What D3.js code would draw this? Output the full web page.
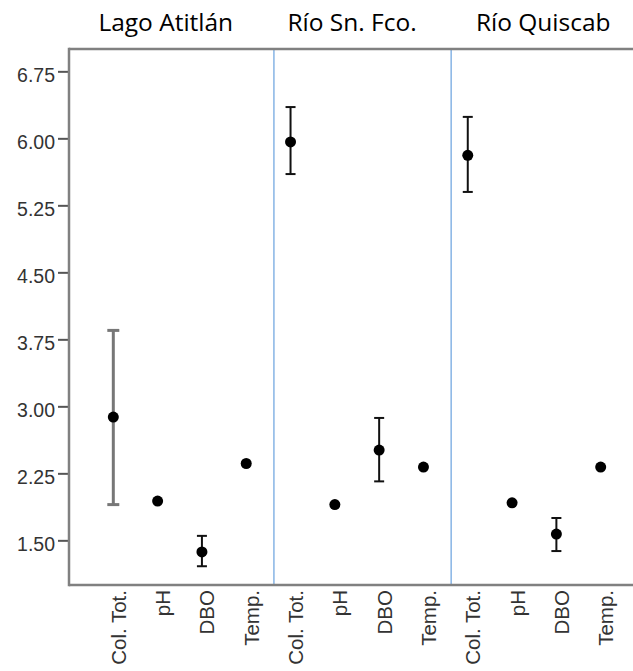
<!DOCTYPE html>
<html>
<head>
<meta charset="utf-8">
<script src="https://cdn.jsdelivr.net/npm/d3@7/dist/d3.min.js"></script>
<style>
  body { margin: 0; background: #fff; }
  svg { display: block; }
</style>
</head>
<body>
<div id="chart"></div>
<script>
// sites and measured variables
const groups = ['Lago Atitlán', 'Río Sn. Fco.', 'Río Quiscab'];
const variables = ['Col. Tot.', 'pH', 'DBO', 'Temp.'];

// mean per site, one value per variable
const meanAtitlan = [2.88, 1.94, 1.37, 2.36];
const meanSnFco = [5.96, 1.90, 2.51, 2.32];
const meanQuiscab = [5.81, 1.92, 1.57, 2.32];

// interval bounds (null = no bar drawn)
const lowAtitlan = [1.90, null, 1.21, null];
const highAtitlan = [3.85, null, 1.55, null];
const lowSnFco = [5.60, null, 2.16, null];
const highSnFco = [6.35, null, 2.87, null];
const lowQuiscab = [5.40, null, 1.38, null];
const highQuiscab = [6.24, null, 1.75, null];

const yTicks = [1.50, 2.25, 3.00, 3.75, 4.50, 5.25, 6.00, 6.75];

const means = [meanAtitlan, meanSnFco, meanQuiscab];
const lows = [lowAtitlan, lowSnFco, lowQuiscab];
const highs = [highAtitlan, highSnFco, highQuiscab];

const data = [];
groups.forEach((g, gi) => {
    variables.forEach((v, vi) => {
        data.push({
            key: g + '|' + v, group: g, gi, variable: v, vi,
            mean: means[gi][vi], low: lows[gi][vi], high: highs[gi][vi]
        });
    });
});

const width = 633;
const height = 671;
const margin = { top: 49, left: 69, bottom: 86 };
const plotBottom = height - margin.bottom;
const labelFont = '"Liberation Sans", Arial, sans-serif';

const svg = d3.select('#chart')
    .append('svg')
    .attr('width', width)
    .attr('height', height);

// scales
const xScale = d3.scalePoint()
    .domain(data.map(d => d.key))
    .range([margin.left, 645])
    .padding(1);

const yScale = d3.scaleLinear()
    .domain([1, 7])
    .range([plotBottom, margin.top]);

const step = xScale.step();

// panel separators
for (let gi = 0; gi < groups.length - 1; gi++) {
    const lastKey = groups[gi] + '|' + variables[variables.length - 1];
    const sx = xScale(lastKey) + step * 0.625;
    svg.append('line')
        .attr('x1', sx).attr('x2', sx)
        .attr('y1', margin.top).attr('y2', plotBottom)
        .attr('stroke', '#7eaee3')
        .attr('stroke-width', 1.4);
}

// frame: top line
svg.append('line')
    .attr('x1', margin.left).attr('x2', width)
    .attr('y1', margin.top).attr('y2', margin.top)
    .attr('stroke', '#808080')
    .attr('stroke-width', 2.5);

// y axis
const yAxis = d3.axisLeft(yScale)
    .tickValues(yTicks)
    .tickFormat(d3.format('.2f'))
    .tickSize(11)
    .tickPadding(3)
    .tickSizeOuter(0);

const yG = svg.append('g')
    .attr('transform', `translate(${margin.left},0)`)
    .call(yAxis);
yG.select('.domain').remove();
yG.selectAll('.tick line').attr('stroke', '#555').attr('stroke-width', 2);
yG.selectAll('.tick text')
    .attr('dy', '0.5em')
    .style('font-family', labelFont)
    .style('font-size', '19.5px')
    .style('fill', '#333');

svg.append('line')
    .attr('x1', margin.left).attr('x2', margin.left)
    .attr('y1', margin.top - 1.25).attr('y2', plotBottom + 1.25)
    .attr('stroke', '#808080')
    .attr('stroke-width', 2.5);

// x axis
const xAxis = d3.axisBottom(xScale)
    .tickSize(0)
    .tickFormat(k => k.split('|')[1]);

const xG = svg.append('g')
    .attr('transform', `translate(0,${plotBottom})`)
    .call(xAxis);
xG.select('.domain').remove();
xG.selectAll('.tick text')
    .attr('transform', 'rotate(-90)')
    .attr('x', -5)
    .attr('y', 0)
    .attr('dy', '12px')
    .style('text-anchor', 'end')
    .style('font-family', labelFont)
    .style('font-size', '20.5px')
    .style('fill', '#333');

svg.append('line')
    .attr('x1', margin.left).attr('x2', width)
    .attr('y1', plotBottom).attr('y2', plotBottom)
    .attr('stroke', '#808080')
    .attr('stroke-width', 2.5);

// panel titles
const titleOffsets = [-14, -5, 9];
svg.selectAll('.panel-title')
    .data(groups)
    .enter()
    .append('text')
    .attr('class', 'panel-title')
    .attr('x', (g, i) => (xScale(g + '|pH') + xScale(g + '|DBO')) / 2 + titleOffsets[i])
    .attr('y', 31)
    .attr('text-anchor', 'middle')
    .style('font-family', '"Open Sans", sans-serif')
    .style('font-size', '24.5px')
    .style('fill', '#000')
    .text(g => g);

// error bars
const withBars = data.filter(d => d.low !== null);
const barColor = d => (d.gi === 0 && d.vi === 0 ? '#777' : '#111');
const barWidth = d => (d.gi === 0 && d.vi === 0 ? 3 : 2);
const capHalf = d => (d.gi === 0 && d.vi === 0 ? 6 : 5);

svg.selectAll('.err')
    .data(withBars)
    .enter()
    .append('line')
    .attr('class', 'err')
    .attr('x1', d => xScale(d.key)).attr('x2', d => xScale(d.key))
    .attr('y1', d => yScale(d.low)).attr('y2', d => yScale(d.high))
    .attr('stroke', barColor)
    .attr('stroke-width', barWidth);

['low', 'high'].forEach(bound => {
    svg.selectAll('.cap-' + bound)
        .data(withBars)
        .enter()
        .append('line')
        .attr('class', 'cap-' + bound)
        .attr('x1', d => xScale(d.key) - capHalf(d))
        .attr('x2', d => xScale(d.key) + capHalf(d))
        .attr('y1', d => yScale(d[bound]))
        .attr('y2', d => yScale(d[bound]))
        .attr('stroke', barColor)
        .attr('stroke-width', barWidth);
});

// points
svg.selectAll('.dot')
    .data(data)
    .enter()
    .append('circle')
    .attr('class', 'dot')
    .attr('cx', d => xScale(d.key))
    .attr('cy', d => yScale(d.mean))
    .attr('r', 5.5)
    .attr('fill', '#000');
</script>
</body>
</html>
